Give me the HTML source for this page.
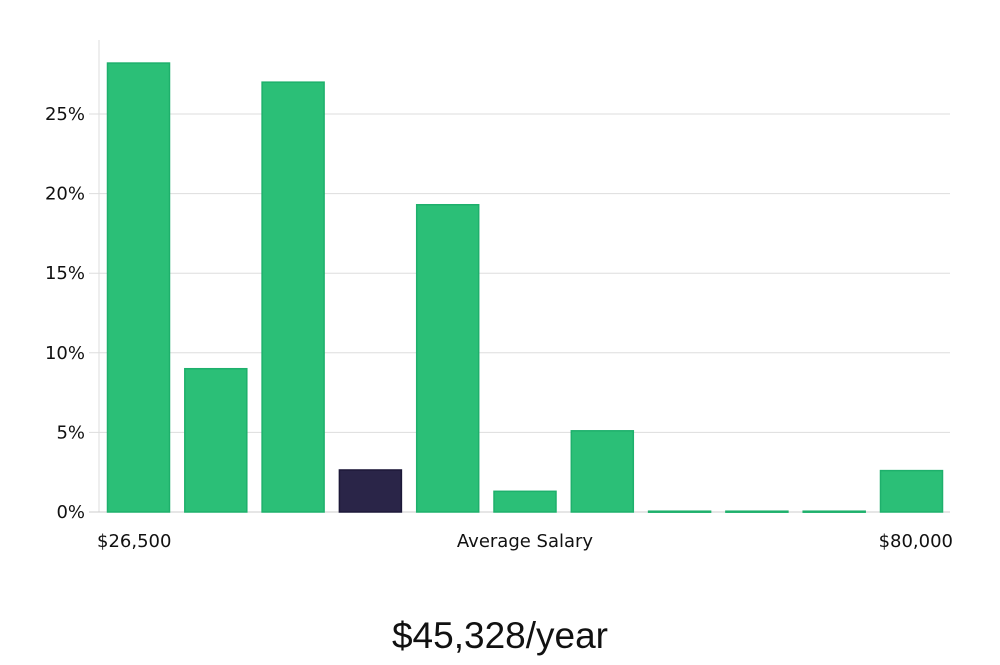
<!DOCTYPE html>
<html><head><meta charset="utf-8"><style>
body{margin:0;background:#fff;width:1000px;height:660px;overflow:hidden}
svg text{font-family:"DejaVu Sans","Liberation Sans",sans-serif;fill:#111}
</style></head><body>
<svg id="chart" width="1000" height="660"></svg>
<script>
const categories=["b1","b2","b3","b4","b5","b6","b7","b8","b9","b10","b11"];
const values=[28.2,9.0,27.0,2.64,19.3,1.3,5.1,0.05,0.05,0.05,2.6];
const highlight=[false,false,false,true,false,false,false,false,false,false,false];
const yTicks=[0,5,10,15,20,25];
const yTickLabels=["0%","5%","10%","15%","20%","25%"];
const xLabels=["$26,500","Average Salary","$80,000"];
const title="$45,328/year";
const ns="http://www.w3.org/2000/svg";
const svg=document.getElementById("chart");
const x0=99,x1=950,y0=512,pxPer=15.92;
const y=v=>y0-v*pxPer;
const step=77.3,bw=62,bStart=107.5;
const xb=i=>bStart+i*step;
function mk(t,a){const e=document.createElementNS(ns,t);for(const k in a)e.setAttribute(k,a[k]);svg.appendChild(e);return e;}
const ax=mk("line",{x1:x0,y1:40,x2:x0,y2:y0,stroke:"#ddd"});


yTicks.forEach((t,i)=>{
  const g=mk("line",{x1:x0-10,y1:y(t),x2:x1,y2:y(t),stroke:t===0?"#ccc":"#ddd"});
  
  
  const tx=mk("text",{x:85,y:y(t)+6,"text-anchor":"end","font-size":"18"});
  tx.textContent=yTickLabels[i];
  
  
});
values.forEach((v,i)=>{
  const r=mk("rect",{x:xb(i),y:y(v),width:bw,height:Math.max(v*pxPer,1),
    fill:highlight[i]?"#2a2548":"#2bbf77",stroke:highlight[i]?"#1c1838":"#1eb06c","stroke-width":1.5});
  
  
});
const xl=[[97,"start"],[525,"middle"],[953,"end"]];
xLabels.forEach((l,i)=>{
  const t=mk("text",{x:xl[i][0],y:547,"text-anchor":xl[i][1],"font-size":"18"});
  t.textContent=l;
  
  
});
const tt=mk("text",{x:500,y:648,"text-anchor":"middle","font-size":"37",style:"font-family:'Liberation Sans Narrow','Liberation Sans',sans-serif;font-weight:300"});
tt.textContent=title;


</script>
</body></html>
